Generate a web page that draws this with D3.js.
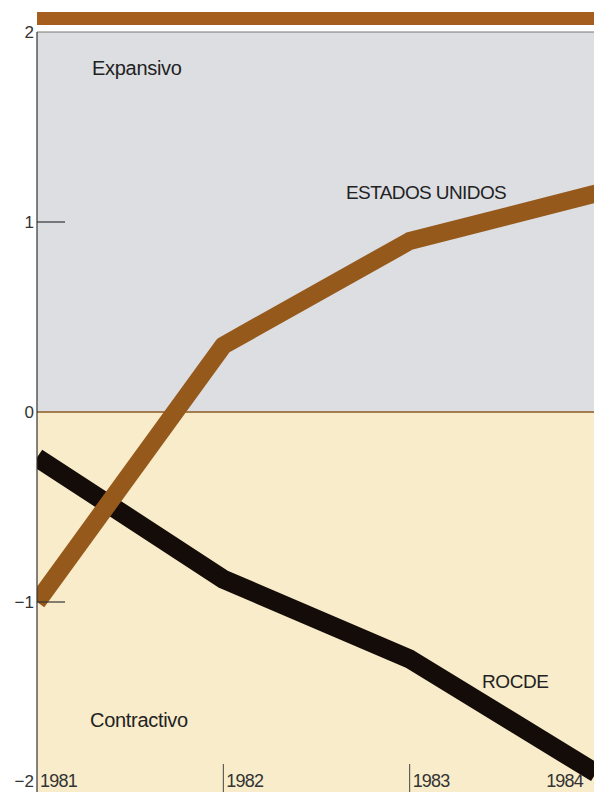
<!DOCTYPE html>
<html>
<head>
<meta charset="utf-8">
<script src="https://cdn.jsdelivr.net/npm/d3@7"></script>
<style>
  body { margin: 0; background: #fff; }
  text { font-family: "Liberation Sans", Arial, sans-serif; }
</style>
</head>
<body>
<script>
// data
const years = [1981, 1982, 1983, 1984];
const estadosUnidos = [-1.0, 0.35, 0.9, 1.15];
const rocde = [-0.24, -0.88, -1.3, -1.9];
const yTicks = [2, 1, 0, -1, -2];

const W = 594, H = 792;
const padL = 37, padR = 596, padT = 32, padB = 792;

const x = d3.scaleLinear().domain([1981, 1984]).range([padL, padR]);
const y = d3.scaleLinear().domain([-2, 2]).range([padB, padT]);

const svg = d3.select("body").append("svg")
  .attr("width", W).attr("height", H);

svg.append("clipPath").attr("id", "plot")
  .append("rect").attr("x", padL).attr("y", padT)
  .attr("width", W - padL).attr("height", padB - padT);

// backgrounds
svg.append("rect").attr("x", padL).attr("y", y(2))
  .attr("width", W - padL).attr("height", y(0) - y(2))
  .attr("fill", "#dddee2");
svg.append("rect").attr("x", padL).attr("y", y(0))
  .attr("width", W - padL).attr("height", y(-2) - y(0))
  .attr("fill", "#f8ecca");

// top band
svg.append("rect").attr("x", padL).attr("y", 12)
  .attr("width", W - padL).attr("height", 13)
  .attr("fill", "#a65e1e");
svg.append("line").attr("x1", padL).attr("x2", W)
  .attr("y1", y(2)).attr("y2", y(2))
  .attr("stroke", "#777").attr("stroke-width", 1);

// zero line
svg.append("line").attr("x1", padL).attr("x2", W)
  .attr("y1", y(0)).attr("y2", y(0))
  .attr("stroke", "#8a5a22").attr("stroke-width", 1.5);

// region labels
svg.append("text").attr("x", 92).attr("y", 75)
  .attr("font-size", 20).attr("fill", "#222").attr("letter-spacing", -0.3)
  .text("Expansivo");
svg.append("text").attr("x", 90).attr("y", 727)
  .attr("font-size", 20).attr("fill", "#222").attr("letter-spacing", -0.3)
  .text("Contractivo");

// lines
const line = d3.line().x((d, i) => x(years[i])).y(d => y(d));
const g = svg.append("g").attr("clip-path", "url(#plot)");
g.append("path").datum(rocde).attr("d", line)
  .attr("fill", "none").attr("stroke", "#140c08")
  .attr("stroke-width", 19).attr("stroke-linejoin", "round");
g.append("path").datum(estadosUnidos).attr("d", line)
  .attr("fill", "none").attr("stroke", "#96591c")
  .attr("stroke-width", 18).attr("stroke-linejoin", "round");

svg.append("text").attr("x", 346).attr("y", 199)
  .attr("font-size", 19).attr("fill", "#222").attr("letter-spacing", -0.6)
  .text("ESTADOS UNIDOS");
svg.append("text").attr("x", 482).attr("y", 688)
  .attr("font-size", 19).attr("fill", "#222").attr("letter-spacing", -0.4)
  .text("ROCDE");

// y axis
svg.append("line").attr("x1", padL).attr("x2", padL)
  .attr("y1", y(2)).attr("y2", padB)
  .attr("stroke", "#333").attr("stroke-width", 1.2);
svg.selectAll(".ytick").data(yTicks.filter(d => d === 1 || d === -1)).enter()
  .append("line").attr("x1", padL).attr("x2", 65)
  .attr("y1", d => y(d)).attr("y2", d => y(d))
  .attr("stroke", "#333").attr("stroke-width", 1.2);
svg.selectAll(".ylab").data(yTicks).enter()
  .append("text")
  .attr("x", 34)
  .attr("y", d => d === -2 ? 787 : y(d) + 6)
  .attr("text-anchor", "end")
  .attr("font-size", 17).attr("fill", "#333")
  .text(d => d < 0 ? "\u2212" + Math.abs(d) : d);

// x axis: tick lines and labels
svg.selectAll(".xtick").data(years.slice(1, 3)).enter()
  .append("line").attr("x1", d => x(d)).attr("x2", d => x(d))
  .attr("y1", 764).attr("y2", padB)
  .attr("stroke", "#444").attr("stroke-width", 1);
svg.selectAll(".xlab").data(years).enter()
  .append("text")
  .attr("x", d => d === 1984 ? 583 : x(d) + 3)
  .attr("y", 787)
  .attr("text-anchor", d => d === 1984 ? "end" : "start")
  .attr("font-size", 18).attr("fill", "#333").attr("letter-spacing", -0.8)
  .text(d => d);
</script>
</body>
</html>
